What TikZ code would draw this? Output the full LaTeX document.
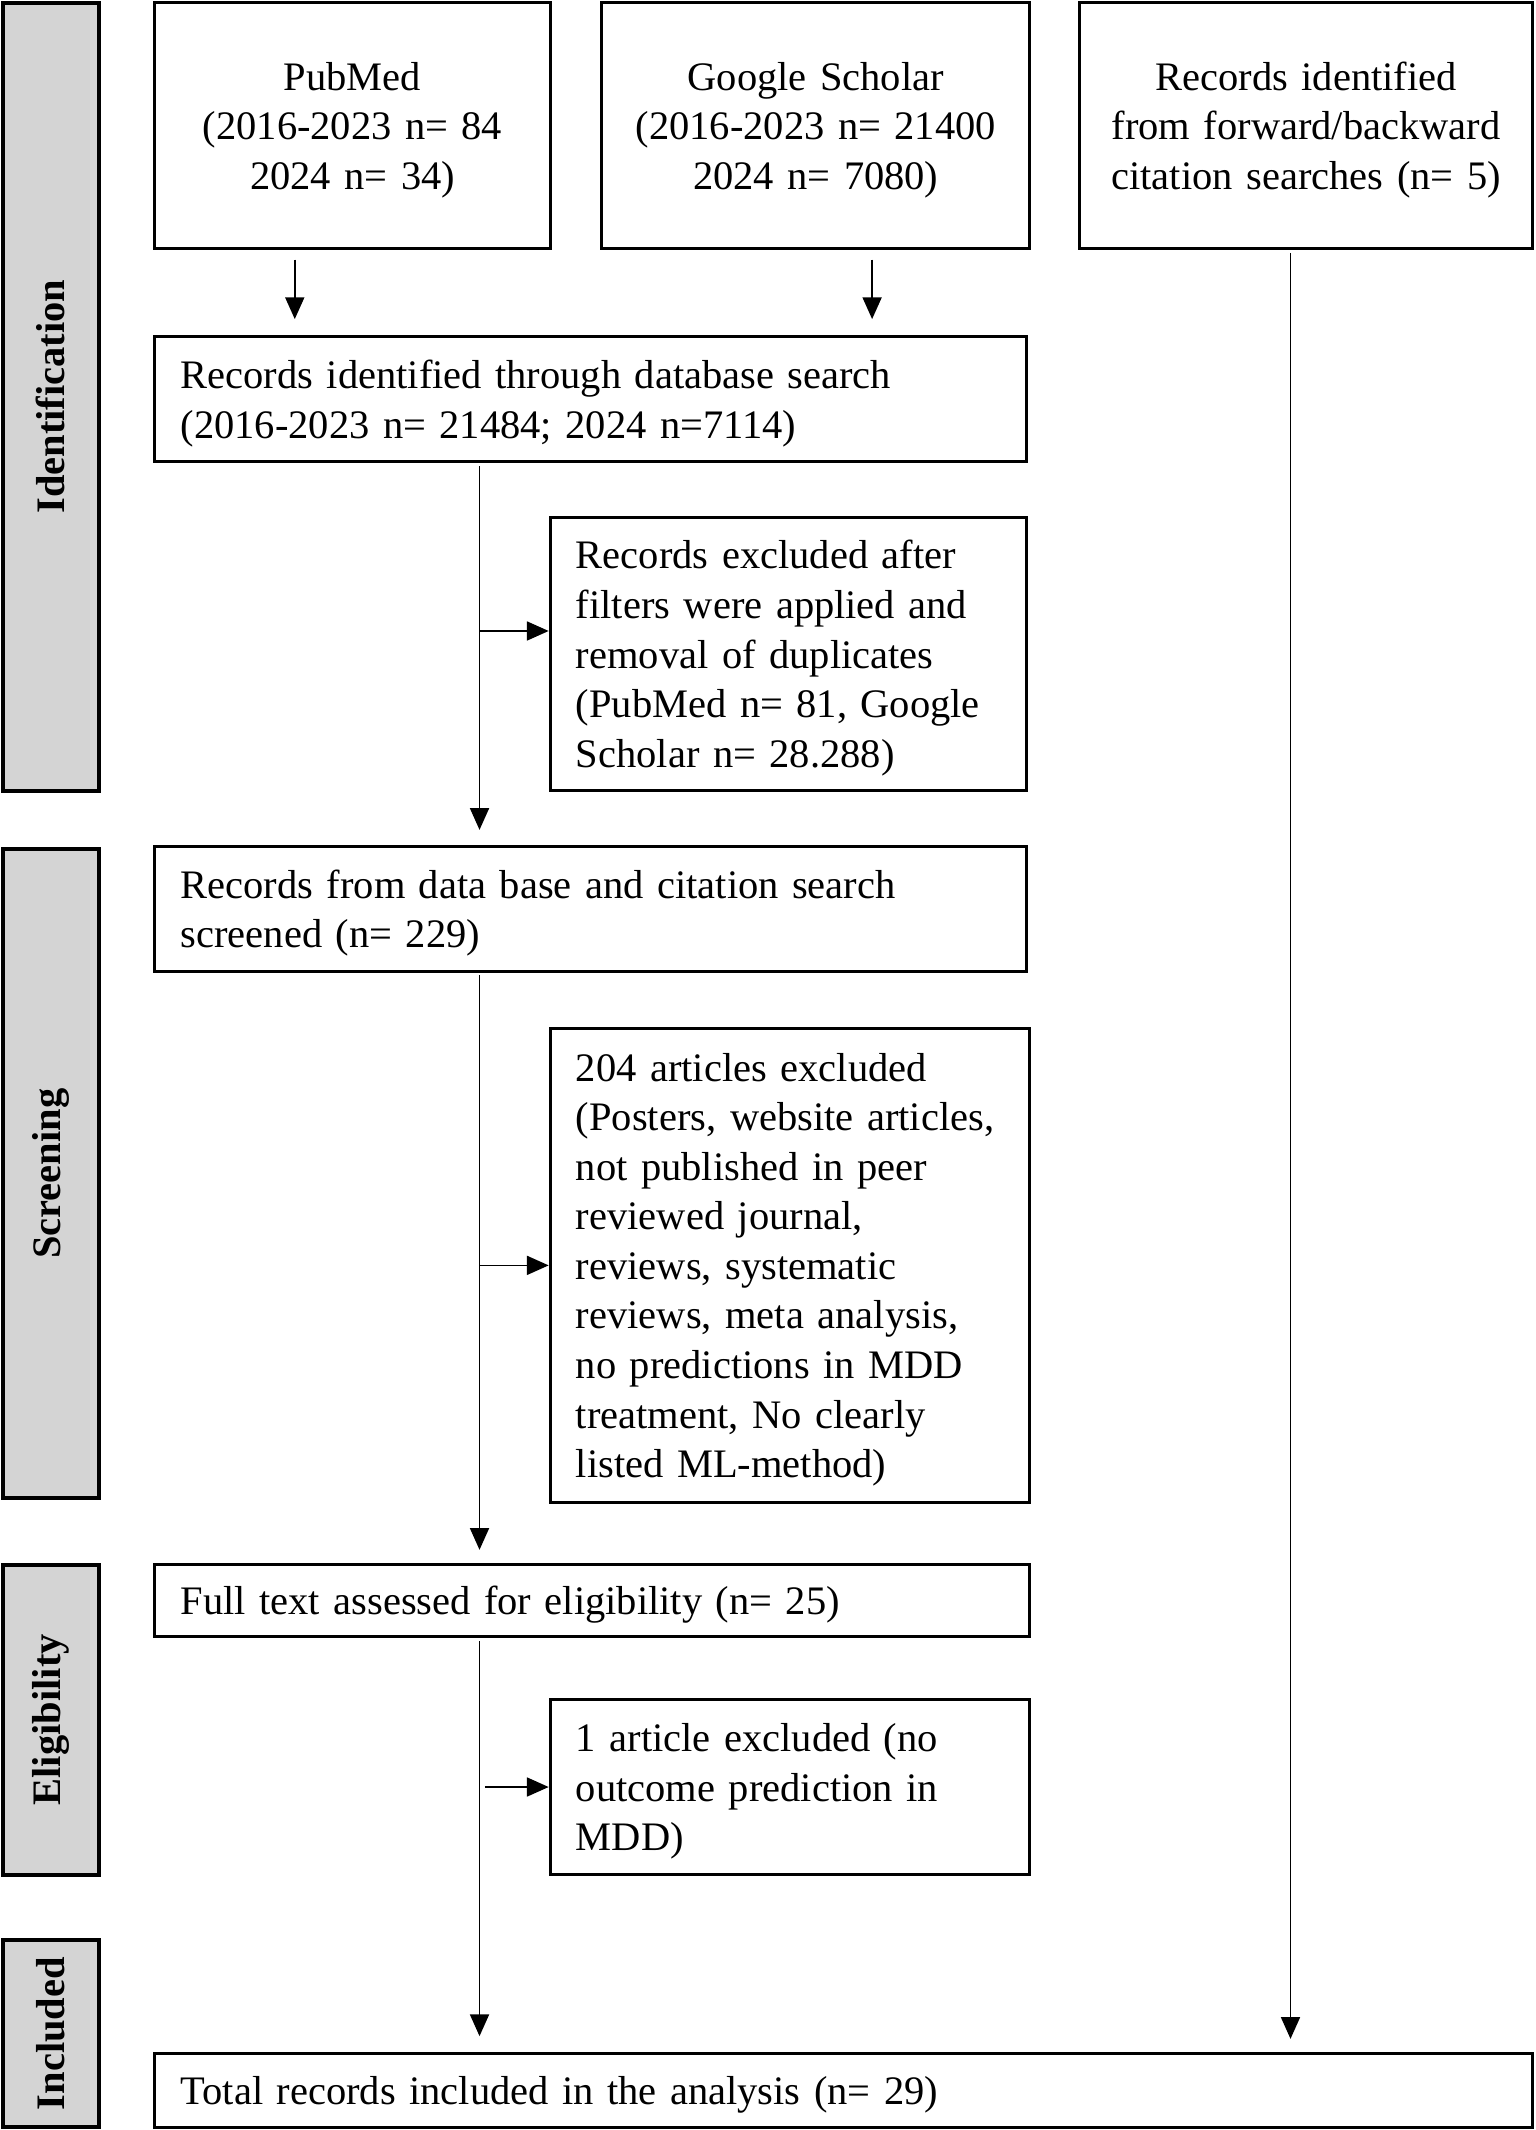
\documentclass[tikz,border=0pt]{standalone}
\usepackage{fontspec}
\setmainfont{Liberation Serif}
\usetikzlibrary{arrows.meta,calc}
\colorlet{phaseFill}{black!17}
\colorlet{boxStroke}{black}
\newcommand{\BoxFont}{\fontsize{14.9}{18.25}\selectfont\hyphenpenalty=10000\exhyphenpenalty=10000}
\newcommand{\XSpine}{353}
\newcommand{\XPubMed}{217}
\newcommand{\XScholar}{642}
\newcommand{\XCitation}{950}
\newcommand{\XPhase}{37.5}

\begin{document}
\begin{tikzpicture}[
  x=0.5pt,y=-0.5pt,
  >={Triangle[length=8pt,width=7pt]},
  box/.style={draw=boxStroke,line width=1.1pt,inner xsep=9.5pt,inner ysep=0pt,font=\BoxFont,
    execute at begin node={\rule{0pt}{13.5pt}}},
  sourcebox/.style={box,align=center,minimum height=90.5pt},
  stepbox/.style={box,align=left},
  phase/.style={draw,line width=1.4pt,fill=phaseFill,rotate=90,minimum height=35.5pt,
    inner sep=0pt,font=\BoxFont\bfseries},
  flow/.style={->,line width=0.6pt}
]
\useasboundingbox (0,0) rectangle (1130,1568);

% Phase bars
\node[phase,minimum width=290pt] (identification) at (\XPhase,292) {Identification};
\node[phase,minimum width=239pt] (screening) at (\XPhase,864) {Screening};
\node[phase,minimum width=114pt] (eligibility) at (\XPhase,1266) {Eligibility};
\node[phase,minimum width=69pt] (included) at (\XPhase,1497) {Included};

% Sources
\node[sourcebox,text width=126.5pt] (pubmed) at (259.5,92.5)
  {PubMed\\(2016-2023 n= 84\\2024 n= 34)};
\node[sourcebox,text width=138.5pt] (scholar) at (600.5,92.5)
  {Google Scholar\\(2016-2023 n= 21400\\2024 n= 7080)};
\node[sourcebox,text width=147.5pt] (citation) at (961.5,92.5)
  {Records identified\\from forward/backward\\citation searches (n= 5)};

% Main steps
\node[stepbox,text width=302pt,minimum height=46pt] (dbsearch) at (435,294)
  {Records identified through database search\\(2016-2023 n= 21484; 2024 n=7114)};
\node[stepbox,text width=302pt,minimum height=46pt] (screened) at (435,669)
  {Records from data base and citation search\\screened (n= 229)};
\node[stepbox,text width=303pt,minimum height=26.5pt] (fulltext) at (436,1178.5)
  {Full text assessed for eligibility (n= 25)};
\node[stepbox,text width=488pt,minimum height=27pt] (total) at (621,1539)
  {Total records included in the analysis (n= 29)};

% Exclusions
\node[stepbox,text width=156.5pt,minimum height=100.5pt] (exclA) at (580.5,481.5)
  {Records excluded after\\filters were applied and\\removal of duplicates\\(PubMed n= 81, Google\\Scholar n= 28.288)};
\node[stepbox,text width=157.5pt,minimum height=174.5pt] (exclB) at (581.5,931.5)
  {204 articles excluded\\(Posters, website articles,\\not published in peer\\reviewed journal,\\reviews, systematic\\reviews, meta analysis,\\no predictions in MDD\\treatment, No clearly\\listed ML-method)};
\node[stepbox,text width=157.5pt,minimum height=64.5pt] (exclC) at (581.5,1315.5)
  {1 article excluded (no\\outcome prediction in\\MDD)};

% Connectors
\coordinate (pmdrop) at (\XPubMed,0);
\coordinate (gsdrop) at (\XScholar,0);
\coordinate (spine) at (\XSpine,0);
\coordinate (citedrop) at (\XCitation,0);
\coordinate (exclAin) at ([yshift=8.5pt]exclA.west);

\draw[flow,shorten <=3.5pt,shorten >=6pt] (pubmed.south -| pmdrop) -- (dbsearch.north -| pmdrop);
\draw[flow,shorten <=3.5pt,shorten >=6pt] (scholar.south -| gsdrop) -- (dbsearch.north -| gsdrop);
\draw[flow,shorten <=1pt,shorten >=5.5pt] (dbsearch.south -| spine) -- (screened.north -| spine);
\draw[flow,shorten <=1pt,shorten >=5pt] (screened.south -| spine) -- (fulltext.north -| spine);
\draw[flow,shorten <=1pt,shorten >=6pt] (fulltext.south -| spine) -- (total.north -| spine);
\draw[flow,shorten <=1pt,shorten >=5pt] (citation.south -| citedrop) -- (total.north -| citedrop);

\draw[flow] (spine |- exclAin) -- (exclAin);
\draw[flow] (spine |- exclB.west) -- (exclB.west);
\draw[flow,shorten <=2pt] (spine |- exclC.west) -- (exclC.west);

\end{tikzpicture}
\end{document}
